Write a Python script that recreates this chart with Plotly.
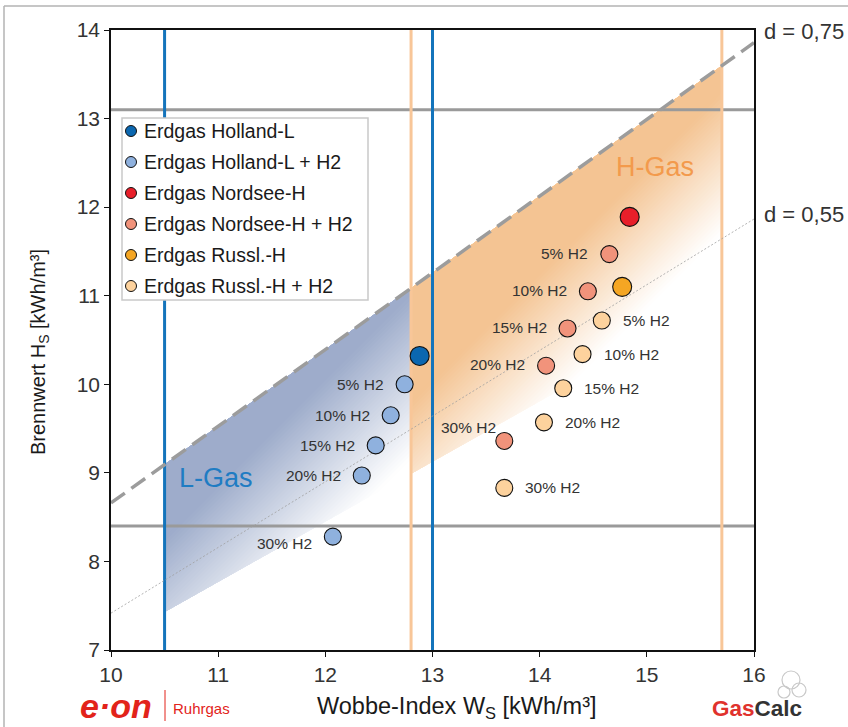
import math
import plotly.graph_objects as go

# ---------------- data ----------------
h2_labels = ["5% H2", "10% H2", "15% H2", "20% H2", "30% H2"]

holland_ws = [12.88]
holland_hs = [10.32]
holland_h2_ws = [12.74, 12.61, 12.47, 12.34, 12.07]
holland_h2_hs = [10.00, 9.65, 9.31, 8.97, 8.28]

nordsee_ws = [14.84]
nordsee_hs = [11.89]
nordsee_h2_ws = [14.65, 14.45, 14.26, 14.06, 13.67]
nordsee_h2_hs = [11.47, 11.05, 10.63, 10.21, 9.36]

russl_ws = [14.77]
russl_hs = [11.10]
russl_h2_ws = [14.58, 14.40, 14.22, 14.04, 13.67]
russl_h2_hs = [10.72, 10.34, 9.955, 9.57, 8.83]

series_names = ["Erdgas Holland-L", "Erdgas Holland-L + H2", "Erdgas Nordsee-H",
                "Erdgas Nordsee-H + H2", "Erdgas Russl.-H", "Erdgas Russl.-H + H2"]

l_gas_ws_limits = [10.5, 13.0]
h_gas_ws_limits = [12.8, 15.7]
hs_limits = [8.4, 13.1]
rel_density = [0.75, 0.55]
density_labels = ["d = 0,75", "d = 0,55"]
region_lower_edge = [(10.5, 7.43), (15.7, 10.96)]

x_range = [10, 16]
y_range = [7, 14]

# ---------------- layout constants ----------------
FONT = "Liberation Sans, Arial, Helvetica, sans-serif"
FIG_W, FIG_H = 848, 727
ML, MR, MT, MB = 111, 94, 30, 77
PW = FIG_W - ML - MR
PH = FIG_H - MT - MB


def pxx(px):
    return (px - ML) / PW


def pxy(py):
    return (FIG_H - MB - py) / PH


def to_px(w, h):
    px = ML + (w - x_range[0]) / (x_range[1] - x_range[0]) * PW
    py = MT + (y_range[1] - h) / (y_range[1] - y_range[0]) * PH
    return px, py


def h_upper(w):
    return w * math.sqrt(rel_density[0])


def h_lower(w):
    (w0, h0), (w1, h1) = region_lower_edge
    return h0 + (h1 - h0) * (w - w0) / (w1 - w0)


def clip(poly, g):
    out = []
    n = len(poly)
    for i in range(n):
        p, q = poly[i], poly[(i + 1) % n]
        gp, gq = g(p), g(q)
        if gp <= 0:
            out.append(p)
        if (gp <= 0) != (gq <= 0):
            t = gp / (gp - gq)
            out.append((p[0] + t * (q[0] - p[0]), p[1] + t * (q[1] - p[1])))
    return out


def path_of(poly):
    return "M " + " L ".join(f"{x:.4f},{y:.4f}" for x, y in poly) + " Z"


def mix(rgb, f):
    f = max(0.0, min(1.0, f))
    return "rgb(%d,%d,%d)" % tuple(round(255 - f * (255 - c)) for c in rgb)


shapes = []


def gradient_region(w0, w1, rgb, s_full, s_zero, step=4):
    poly = [(w0, h_upper(w0)), (w1, h_upper(w1)), (w1, h_lower(w1)), (w0, h_lower(w0))]

    def fval(s):
        return (s_zero - s) / (s_zero - s_full)

    def psum(p):
        a, b = to_px(*p)
        return a + b

    sums = [psum(p) for p in poly]
    smax = max(sums)
    shapes.append(dict(type="path", path=path_of(poly), xref="x", yref="y",
                       fillcolor=mix(rgb, fval(smax)), line=dict(width=0), layer="below"))
    s = min(smax, s_zero)
    while s > min(sums):
        sub = clip(poly, lambda p, s=s: psum(p) - s)
        if len(sub) >= 3:
            shapes.append(dict(type="path", path=path_of(sub), xref="x", yref="y",
                               fillcolor=mix(rgb, fval(s - step / 2)), line=dict(width=0),
                               layer="below"))
        s -= step
        if s < s_full - step:
            break


gradient_region(l_gas_ws_limits[0], h_gas_ws_limits[0], (158, 172, 203), 705, 870)
gradient_region(h_gas_ws_limits[0], h_gas_ws_limits[1], (244, 196, 147), 815, 955)

# horizontal limits
for h in hs_limits:
    shapes.append(dict(type="line", xref="x", yref="y", x0=x_range[0], x1=x_range[1], y0=h, y1=h,
                       line=dict(color="#9a9a9a", width=3), layer="below"))
# vertical limits
for w in h_gas_ws_limits:
    shapes.append(dict(type="line", xref="x", yref="y", x0=w, x1=w, y0=y_range[0], y1=y_range[1],
                       line=dict(color="#f8c698", width=3), layer="below"))
for w in l_gas_ws_limits:
    shapes.append(dict(type="line", xref="x", yref="y", x0=w, x1=w, y0=y_range[0], y1=y_range[1],
                       line=dict(color="#1474bb", width=3), layer="below"))
# density lines
shapes.append(dict(type="line", xref="x", yref="y", x0=x_range[0], x1=x_range[1],
                   y0=x_range[0] * math.sqrt(rel_density[0]), y1=x_range[1] * math.sqrt(rel_density[0]),
                   line=dict(color="#9c9c9c", width=3.5, dash="17px,8px"), layer="below"))
shapes.append(dict(type="line", xref="x", yref="y", x0=x_range[0], x1=x_range[1],
                   y0=x_range[0] * math.sqrt(rel_density[1]), y1=x_range[1] * math.sqrt(rel_density[1]),
                   line=dict(color="#a0a0a0", width=0.8, dash="2px,2px"), layer="below"))

# outer frame (left and top)
shapes.append(dict(type="line", xref="paper", yref="paper", x0=pxx(4), x1=pxx(4), y0=pxy(6), y1=pxy(FIG_H + 5),
                   line=dict(color="#b3b3b3", width=1.5)))
shapes.append(dict(type="line", xref="paper", yref="paper", x0=pxx(4), x1=pxx(FIG_W + 5), y0=pxy(6), y1=pxy(6),
                   line=dict(color="#b3b3b3", width=1.5)))
# e.on separator
shapes.append(dict(type="line", xref="paper", yref="paper", x0=pxx(165), x1=pxx(165), y0=pxy(690), y1=pxy(721),
                   line=dict(color="#e2231a", width=1)))
# GasCalc icon (decorative)
for cx, cy, r in [(791, 680, 9), (799, 690, 7), (784, 692, 6)]:
    shapes.append(dict(type="circle", xref="paper", yref="paper", x0=pxx(cx - r), x1=pxx(cx + r),
                       y0=pxy(cy + r), y1=pxy(cy - r), line=dict(color="#c8c8c8", width=1.2)))

fig = go.Figure()

series = [
    (holland_ws, holland_hs, "#0b67b0", 19),
    (holland_h2_ws, holland_h2_hs, "#8fb1de", 17),
    (nordsee_ws, nordsee_hs, "#e81f2a", 19),
    (nordsee_h2_ws, nordsee_h2_hs, "#f1937b", 17),
    (russl_ws, russl_hs, "#f5a623", 19),
    (russl_h2_ws, russl_h2_hs, "#fdd29d", 17),
]
for name, (xs, ys, col, size) in zip(series_names, series):
    fig.add_trace(go.Scatter(
        x=xs, y=ys, mode="markers", name=name, showlegend=False,
        marker=dict(color=col, size=size, line=dict(color="#111111", width=1.1)),
        hoverinfo="skip"))

annotations = []

# ---- legend box (drawn above the reference lines) ----
LEG_L, LEG_T, LEG_R, LEG_B = 122, 118, 368, 300
shapes.append(dict(type="rect", xref="paper", yref="paper", x0=pxx(LEG_L), x1=pxx(LEG_R),
                   y0=pxy(LEG_B), y1=pxy(LEG_T), fillcolor="white",
                   line=dict(color="#c9c9c9", width=1.5), layer="above"))
for i, (name, (_, _, col, _)) in enumerate(zip(series_names, series)):
    cy = 131 + i * 31
    shapes.append(dict(type="circle", xref="paper", yref="paper", xsizemode="pixel", ysizemode="pixel",
                       xanchor=pxx(131), yanchor=pxy(cy), x0=-5.5, x1=5.5, y0=-5.5, y1=5.5,
                       fillcolor=col, line=dict(color="#111111", width=1), layer="above"))
    annotations.append(dict(x=pxx(142), y=pxy(cy), xref="paper", yref="paper", text=name,
                            showarrow=False, xanchor="left", yanchor="middle",
                            font=dict(family=FONT, size=19.5, color="#1a1a1a")))

lab_font = dict(family=FONT, size=15.5, color="#333333")
for lbl, w, h in zip(h2_labels, holland_h2_ws, holland_h2_hs):
    dy = -7 if lbl == h2_labels[-1] else 0
    annotations.append(dict(x=w, y=h, text=lbl, showarrow=False, xanchor="right", yanchor="middle",
                            xshift=-19, yshift=dy, font=lab_font))
for lbl, w, h in zip(h2_labels, nordsee_h2_ws, nordsee_h2_hs):
    if lbl == h2_labels[-1]:
        annotations.append(dict(x=w, y=h, text=lbl, showarrow=False, xanchor="right", yanchor="middle",
                                xshift=-6, yshift=13, font=lab_font))
    else:
        annotations.append(dict(x=w, y=h, text=lbl, showarrow=False, xanchor="right", yanchor="middle",
                                xshift=-19, yshift=1, font=lab_font))
for lbl, w, h in zip(h2_labels, russl_h2_ws, russl_h2_hs):
    annotations.append(dict(x=w, y=h, text=lbl, showarrow=False, xanchor="left", yanchor="middle",
                            xshift=19, font=lab_font))

annotations += [
    dict(x=pxx(177), y=pxy(478), xref="paper", yref="paper", text="L-Gas", showarrow=False,
         xanchor="left", yanchor="middle", font=dict(family=FONT, size=27, color="#1f7cc3")),
    dict(x=pxx(614), y=pxy(167), xref="paper", yref="paper", text="H-Gas", showarrow=False,
         xanchor="left", yanchor="middle", font=dict(family=FONT, size=27, color="#f39a4c")),
    dict(x=pxx(762), y=pxy(32), xref="paper", yref="paper", text=density_labels[0], showarrow=False,
         xanchor="left", yanchor="middle", font=dict(family=FONT, size=22, color="#333333")),
    dict(x=pxx(762), y=pxy(214), xref="paper", yref="paper", text=density_labels[1], showarrow=False,
         xanchor="left", yanchor="middle", font=dict(family=FONT, size=22, color="#333333")),
    dict(x=pxx(457), y=pxy(707), xref="paper", yref="paper",
         text="Wobbe-Index W<sub>S</sub> [kWh/m³]", showarrow=False,
         xanchor="center", yanchor="middle", font=dict(family=FONT, size=23.5, color="#1a1a1a")),
    dict(x=pxx(40), y=pxy(352), xref="paper", yref="paper",
         text="Brennwert H<sub>S</sub> [kWh/m³]", showarrow=False, textangle=-90,
         xanchor="center", yanchor="middle", font=dict(family=FONT, size=20, color="#1a1a1a")),
    dict(x=pxx(78), y=pxy(706), xref="paper", yref="paper", text="<b><i>e·on</i></b>", showarrow=False,
         xanchor="left", yanchor="middle", font=dict(family=FONT, size=34, color="#e2231a")),
    dict(x=pxx(171), y=pxy(708), xref="paper", yref="paper", text="Ruhrgas", showarrow=False,
         xanchor="left", yanchor="middle", font=dict(family=FONT, size=15, color="#e2231a")),
    dict(x=pxx(710), y=pxy(708), xref="paper", yref="paper",
         text="<b><span style='color:#e0322d'>Gas</span><span style='color:#333333'>Calc</span></b>",
         showarrow=False, xanchor="left", yanchor="middle", font=dict(family=FONT, size=22.5)),
]

axis_common = dict(showline=True, linecolor="#111111", linewidth=1.5, mirror=True,
                   ticks="outside", ticklen=5, tickwidth=1, tickcolor="#111111",
                   showgrid=False, zeroline=False, dtick=1,
                   tickfont=dict(family=FONT, size=21, color="#333333"))

fig.update_layout(
    width=FIG_W, height=FIG_H,
    margin=dict(l=ML, r=MR, t=MT, b=MB, pad=0),
    paper_bgcolor="white", plot_bgcolor="white",
    xaxis=dict(range=x_range, **axis_common),
    yaxis=dict(range=y_range, **axis_common),
    shapes=shapes, annotations=annotations,
    font=dict(family=FONT),
    showlegend=False,
)

fig.write_html("out.html", config={"displayModeBar": False},
               post_script="document.body.style.margin='0';")
